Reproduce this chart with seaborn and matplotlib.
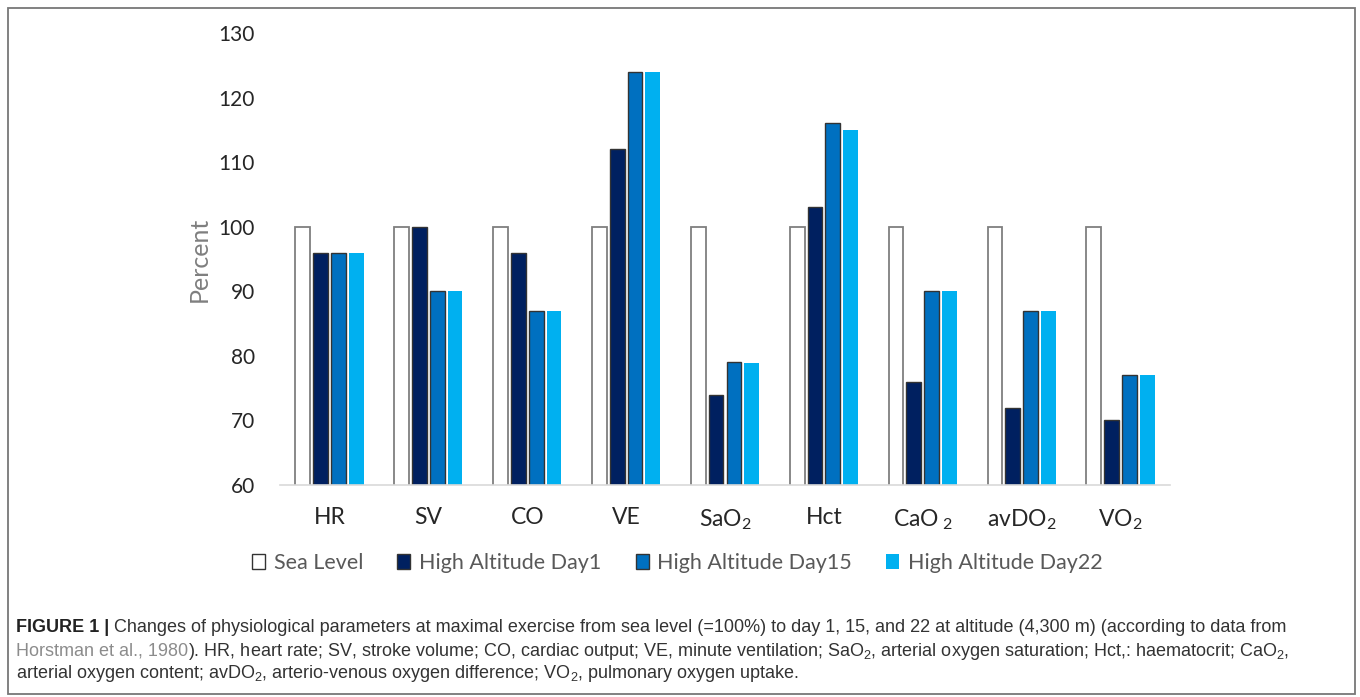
import matplotlib
matplotlib.use("Agg")
import matplotlib.pyplot as plt
import seaborn as sns
import pandas as pd
from matplotlib.patches import Rectangle, Patch
from matplotlib import font_manager

categories = ["HR", "SV", "CO", "VE", "SaO$_2$", "Hct", "CaO$_{\\ 2}$", "avDO$_2$", "VO$_2$"]
sea_level = [100, 100, 100, 100, 100, 100, 100, 100, 100]
day1 = [96, 100, 96, 112, 74, 103, 76, 72, 70]
day15 = [96, 90, 87, 124, 79, 116, 90, 87, 77]
day22 = [96, 90, 87, 124, 78.9, 115, 90, 87, 77]
series_names = ["Sea Level", "High Altitude Day1", "High Altitude Day15", "High Altitude Day22"]
yticks = [60, 70, 80, 90, 100, 110, 120, 130]

colors = ["#FFFFFF", "#002060", "#0070C0", "#00B0F0"]
edges = ["#7F7F7F", "#333333", "#333333", "none"]

sns.set_theme(style="white")
available = {f.name for f in font_manager.fontManager.ttflist}
main_font = "Lato" if "Lato" in available else "DejaVu Sans"
cap_font = "Liberation Sans Narrow" if "Liberation Sans Narrow" in available else "Liberation Sans"
plt.rcParams["font.family"] = [main_font, "DejaVu Sans"]
plt.rcParams["mathtext.fontset"] = "custom"
plt.rcParams["mathtext.rm"] = main_font
plt.rcParams["mathtext.it"] = main_font
plt.rcParams["mathtext.bf"] = main_font

rows = []
for name, vals in zip(series_names, [sea_level, day1, day15, day22]):
    for c, v in zip(categories, vals):
        rows.append({"cat": c, "series": name, "value": v})
df = pd.DataFrame(rows)

fig = plt.figure(figsize=(13.6, 6.97), dpi=100)
ax = fig.add_axes([280/1360, 1-485/697, 890/1360, 452/697])

sns.barplot(data=df, x="cat", y="value", hue="series", order=categories,
            hue_order=series_names, palette=colors, width=0.72, gap=0.17,
            ax=ax, legend=False, saturation=1)

for cont, ec in zip(ax.containers, edges):
    for bar in cont:
        if ec == "none":
            bar.set_edgecolor("none")
            bar.set_linewidth(0)
        else:
            bar.set_edgecolor(ec)
            bar.set_linewidth(1.3 if ec == "#7F7F7F" else 1.0)

ax.set_ylim(60, 130)
ax.set_xlim(-0.5, 8.5)
ax.set_yticks(yticks)
ax.set_yticklabels([str(t) for t in yticks], fontsize=15, color="#262626")
ax.tick_params(axis="x", labelsize=16.5, colors="#262626", length=0, pad=16)
ax.tick_params(axis="y", length=0, pad=18)
ax.set_xlabel("")
ax.set_ylabel("Percent", fontsize=18, color="#7F7F7F", labelpad=6)
for s in ["top", "right", "left"]:
    ax.spines[s].set_visible(False)
ax.spines["bottom"].set_color("#D9D9D9")
ax.spines["bottom"].set_linewidth(1.2)

handles = [Patch(facecolor=c, edgecolor=("#333333" if i < 3 else "none"), linewidth=1.0)
           for i, c in enumerate(colors)]
fig.legend(handles, series_names, loc="center", bbox_to_anchor=(0.498, 1-563/697),
           ncol=4, frameon=False, fontsize=15.5, handlelength=0.6, handleheight=0.75,
           handletextpad=0.4, columnspacing=1.6, labelcolor="#595959")

# border
fig.patches.append(Rectangle((8/1360, 1-694/697), 1347/1360, 686/697, transform=fig.transFigure,
                             fill=False, edgecolor="#777777", linewidth=1.3))

# caption
fig.canvas.draw()
renderer = fig.canvas.get_renderer()
cap_fs = 13.0
def write_line(pieces, y):
    x = 16/1360
    for txt, col, wt in pieces:
        t = fig.text(x, y, txt, fontsize=cap_fs, color=col, fontweight=wt,
                     family=[cap_font, "DejaVu Sans"], va="center", ha="left")
        bb = t.get_window_extent(renderer=renderer)
        x += bb.width / fig.bbox.width

plt.rcParams["mathtext.rm"] = cap_font
plt.rcParams["mathtext.it"] = cap_font
dark = "#333333"
gray = "#8C8C8C"
write_line([("FIGURE 1 | ", "#222222", "bold"),
            ("Changes of physiological parameters at maximal exercise from sea level (=100%) to day 1, 15, and 22 at altitude (4,300 m) (according to data from", dark, "normal")],
           1-628/697)
write_line([("Horstman et al., 1980", gray, "normal"),
            ("). HR, heart rate; SV, stroke volume; CO, cardiac output; VE, minute ventilation; SaO$_2$, arterial oxygen saturation; Hct,: haematocrit; CaO$_2$,", dark, "normal")],
           1-651/697)
write_line([("arterial oxygen content; avDO$_2$, arterio-venous oxygen difference; VO$_2$, pulmonary oxygen uptake.", dark, "normal")],
           1-674/697)

fig.savefig("out.png", dpi=100)
